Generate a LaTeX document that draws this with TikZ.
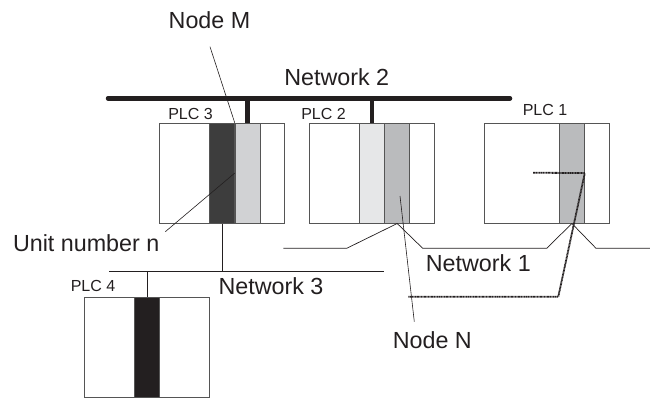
\documentclass[tikz,border=0pt]{standalone}
\usepackage{fontspec}
\setmainfont{Liberation Sans}
\usepackage{xcolor}
\usetikzlibrary{positioning, calc}

\definecolor{inkc}{HTML}{231F20}
\definecolor{linec}{HTML}{555555}
\definecolor{cdark}{HTML}{3D3D3D}
\definecolor{clight}{HTML}{D1D2D4}
\definecolor{cpale}{HTML}{E6E7E8}
\definecolor{cmid}{HTML}{BABBBD}

\begin{document}
\begin{tikzpicture}[x=1pt,y=-1pt,
    plcbox/.style={draw=linec,line width=0.8pt,minimum width=125pt,
      minimum height=100pt,inner sep=0pt,anchor=north west},
    card/.style={draw=linec,line width=0.8pt,minimum width=25pt,
      minimum height=100pt,inner sep=0pt,anchor=north west},
    biglabel/.style={text=inkc,inner sep=0pt,font=\fontsize{23.3}{25}\selectfont},
    plclabel/.style={text=inkc,inner sep=0pt,font=\fontsize{16}{18}\selectfont},
    bus/.style={draw=inkc,line width=4.5pt},
    wire/.style={draw=inkc,line width=0.7pt},
    leader/.style={draw=inkc,line width=0.6pt},
    route/.style={draw=inkc,line width=1.8pt,dash pattern=on 1pt off 0.45pt}]
  \useasboundingbox (0,0) rectangle (650,397);

  % PLC units
  \node[plcbox] (p3) at (159.3,122.7) {};
  \node[card,fill=cdark] (c3a) at (209.3,122.7) {};
  \node[card,fill=clight] (c3b) at (234.7,122.7) {};
  \node[plcbox] (p2) at (309.3,122.7) {};
  \node[card,fill=cpale] (c2a) at (359.3,122.7) {};
  \node[card,fill=cmid] (c2b) at (384.3,122.7) {};
  \node[plcbox] (p1) at (484,122.7) {};
  \node[card,fill=cmid] (c1) at (559,122.7) {};
  \node[plcbox] (p4) at (84.3,297.3) {};
  \node[card,fill=inkc] (c4) at (134,297.3) {};

  \node[plclabel] (l3) at (190.5,114.3) {PLC 3};
  \node[plclabel] (l2) at (323.5,114.3) {PLC 2};
  \node[plclabel] (l1) at (545,110) {PLC 1};
  \node[plclabel] (l4) at (93,286) {PLC 4};

  % Network 2
  \coordinate (n2w) at (108,98.3);
  \coordinate (n2e) at (510,98.3);
  \draw[bus,line cap=round] (n2w) -- (n2e);
  \draw[bus] (c3b.north) -- (c3b.north |- n2w);
  \draw[bus] (c2a.north) -- (c2a.north |- n2w);
  \node[biglabel] (net2) at (336.7,77.3) {Network 2};

  % Network 1
  \coordinate (a1) at (283.3,248.3);
  \coordinate (a2) at (346.7,248.3);
  \coordinate (a3) at (422.7,248.3);
  \coordinate (a4) at (546.7,248.3);
  \coordinate (a5) at (596,248.3);
  \coordinate (a6) at (650,248.3);
  \draw[wire] (a1) -- (a2) -- (c2b.south) -- (a3) -- (a4) -- (c1.south)
    -- (a5) -- (a6);
  \node[biglabel] (net1) at (478.3,263.3) {Network 1};

  % Network 3
  \coordinate (n3w) at (109,271.7);
  \coordinate (n3e) at (384,271.7);
  \draw[wire] (n3w) -- (n3e);
  \draw[wire] (c3a.south) -- (c3a.south |- n3w);
  \draw[wire] (c4.north) -- (c4.north |- n3w);
  \node[biglabel] (net3) at (271,286) {Network 3};

  % route from PLC 1
  \coordinate (r0) at (533,172.7);
  \coordinate (r1) at (558.3,296.7);
  \coordinate (r2) at (408.3,296.7);
  \draw[route] (r0) -- (c1.east) -- (r1) -- (r2);

  % callouts
  \node[biglabel] (nm) at (209.5,20) {Node M};
  \coordinate (nmt) at (210,46.7);
  \draw[leader] (nmt) -- (c3b.north west);
  \node[biglabel] (un) at (86.2,243.3) {Unit number n};
  \coordinate (unt) at (165.3,231.7);
  \draw[leader] (unt) -- (c3b.west);
  \node[biglabel] (nn) at (432.3,340) {Node N};
  \coordinate (nnt) at (414.3,321.7);
  \coordinate (nnh) at (400,196);
  \draw[leader] (nnt) -- (nnh);
\end{tikzpicture}
\end{document}
